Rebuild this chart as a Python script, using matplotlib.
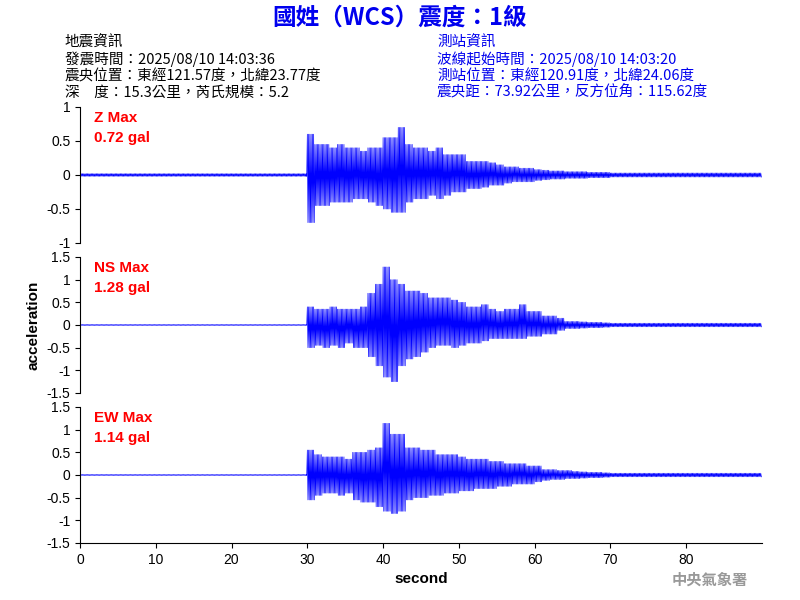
import matplotlib
matplotlib.use("Agg")
import matplotlib.pyplot as plt
import numpy as np

plt.rcParams['font.family'] = ['Noto Sans CJK TC', 'DejaVu Sans']

seconds = list(range(90))
def env(pre, vals, post):
    return pre * 30 + vals + post * (90 - 30 - len(vals))

z_up = env([0.02], [0.6,0.45,0.45,0.4,0.45,0.4,0.4,0.35,0.4,0.4,0.55,0.55,0.7,0.45,0.4,0.4,0.35,0.4,0.3,0.3,0.3,0.2,0.2,0.2,0.18,0.15,0.12,0.12,0.1,0.1,0.08,0.07,0.06,0.06,0.05,0.05,0.05,0.04,0.04,0.04], [0.03])
z_lo = env([-0.02], [-0.7,-0.45,-0.45,-0.4,-0.4,-0.4,-0.35,-0.35,-0.4,-0.45,-0.5,-0.55,-0.55,-0.4,-0.35,-0.35,-0.3,-0.35,-0.3,-0.25,-0.25,-0.2,-0.2,-0.18,-0.15,-0.15,-0.12,-0.1,-0.1,-0.1,-0.08,-0.07,-0.06,-0.06,-0.05,-0.05,-0.05,-0.04,-0.04,-0.04], [-0.03])
ns_up = env([0.01], [0.4,0.35,0.35,0.4,0.35,0.35,0.35,0.4,0.7,0.9,1.28,1.0,0.9,0.75,0.75,0.7,0.6,0.6,0.6,0.55,0.5,0.4,0.4,0.45,0.35,0.3,0.35,0.35,0.45,0.3,0.3,0.2,0.2,0.15,0.08,0.08,0.07,0.06,0.06,0.05], [0.04])
ns_lo = env([-0.01], [-0.5,-0.45,-0.5,-0.45,-0.5,-0.4,-0.5,-0.5,-0.7,-0.9,-1.15,-1.25,-0.9,-0.75,-0.7,-0.6,-0.5,-0.45,-0.45,-0.5,-0.45,-0.4,-0.4,-0.35,-0.3,-0.3,-0.3,-0.3,-0.3,-0.25,-0.25,-0.2,-0.2,-0.12,-0.08,-0.08,-0.07,-0.06,-0.06,-0.05], [-0.04])
ew_up = env([0.01], [0.55,0.45,0.4,0.4,0.4,0.35,0.5,0.5,0.55,0.6,1.14,0.9,0.9,0.6,0.6,0.55,0.55,0.45,0.45,0.45,0.4,0.35,0.35,0.35,0.3,0.3,0.25,0.25,0.25,0.2,0.2,0.12,0.12,0.1,0.1,0.08,0.07,0.06,0.06,0.05], [0.04])
ew_lo = env([-0.01], [-0.55,-0.45,-0.4,-0.4,-0.45,-0.4,-0.55,-0.6,-0.6,-0.7,-0.8,-0.85,-0.8,-0.55,-0.5,-0.5,-0.45,-0.45,-0.4,-0.4,-0.35,-0.35,-0.3,-0.3,-0.3,-0.25,-0.25,-0.2,-0.2,-0.2,-0.15,-0.12,-0.1,-0.1,-0.08,-0.08,-0.07,-0.06,-0.06,-0.05], [-0.04])

def zigzag(up, lo, sub=12):
    t, y = [], []
    for s in seconds:
        for k in range(sub):
            t.append(s + k / sub)
            y.append(up[s] if k % 2 == 0 else lo[s])
    return t, y

fig = plt.figure(figsize=(8, 6), dpi=100)
W, H = 800, 600
def ax_at(top, bot):
    return fig.add_axes([80/W, 1-bot/H, (762-80)/W, (bot-top)/H])

panels = [
    (107, 243, 1, [-1, -0.5, 0, 0.5, 1], ['-1', '-0.5', '0', '0.5', '1'], z_up, z_lo, "Z Max\n0.72 gal"),
    (257, 393, 1.5, [-1.5, -1, -0.5, 0, 0.5, 1, 1.5], ['-1.5', '-1', '-0.5', '0', '0.5', '1', '1.5'], ns_up, ns_lo, "NS Max\n1.28 gal"),
    (407, 543, 1.5, [-1.5, -1, -0.5, 0, 0.5, 1, 1.5], ['-1.5', '-1', '-0.5', '0', '0.5', '1', '1.5'], ew_up, ew_lo, "EW Max\n1.14 gal"),
]
for i, (top, bot, lim, ticks, labels, up, lo, txt) in enumerate(panels):
    ax = ax_at(top, bot)
    t, y = zigzag(up, lo)
    ax.plot(t, y, color='blue', lw=0.5)
    ax.set_xlim(0, 90)
    ax.set_ylim(-lim, lim)
    ax.set_yticks(ticks)
    ax.set_yticklabels(labels, fontsize=10, family='Liberation Sans')
    for s in ['top', 'right']:
        ax.spines[s].set_visible(False)
    if i < 2:
        ax.spines['bottom'].set_visible(False)
        ax.set_xticks([])
    else:
        ax.set_xticks([0, 10, 20, 30, 40, 50, 60, 70, 80])
        ax.set_xticklabels(['0', '10', '20', '30', '40', '50', '60', '70', '80'],
                           fontsize=10, family='Liberation Sans')
        ax.set_xlabel('second', fontsize=11, fontweight='bold', family='Liberation Sans')
    ax.text(0.02, 0.97, txt, transform=ax.transAxes, color='red', fontsize=11,
            fontweight='bold', va='top', family='Liberation Sans', linespacing=1.5)
    if i == 1:
        ax.set_ylabel('acceleration', fontsize=11, fontweight='bold', family='Liberation Sans')

fig.text(0.5, 1-18/H, '國姓（WCS）震度：1級', color='#0000ee', fontsize=17,
         fontweight='bold', ha='center', va='center')
left = ['地震資訊', '發震時間：2025/08/10 14:03:36', '震央位置：東經121.57度，北緯23.77度', '深　度：15.3公里，芮氏規模：5.2']
right = ['測站資訊', '波線起始時間：2025/08/10 14:03:20', '測站位置：東經120.91度，北緯24.06度', '震央距：73.92公里，反方位角：115.62度']
for j, (l, r) in enumerate(zip(left, right)):
    yy = 1 - (43 + j * 16.5) / H
    fig.text(65/W, yy, l, fontsize=10.5, va='center', color='black', fontweight='medium')
    fig.text(437/W, yy, r, fontsize=10.5, va='center', color='#0000ee', fontweight='medium')
fig.text(748/W, 1-580/H, '中央氣象署', fontsize=11, color='#999999', ha='right', va='center', fontweight='bold')
fig.savefig('out.png', dpi=100)
